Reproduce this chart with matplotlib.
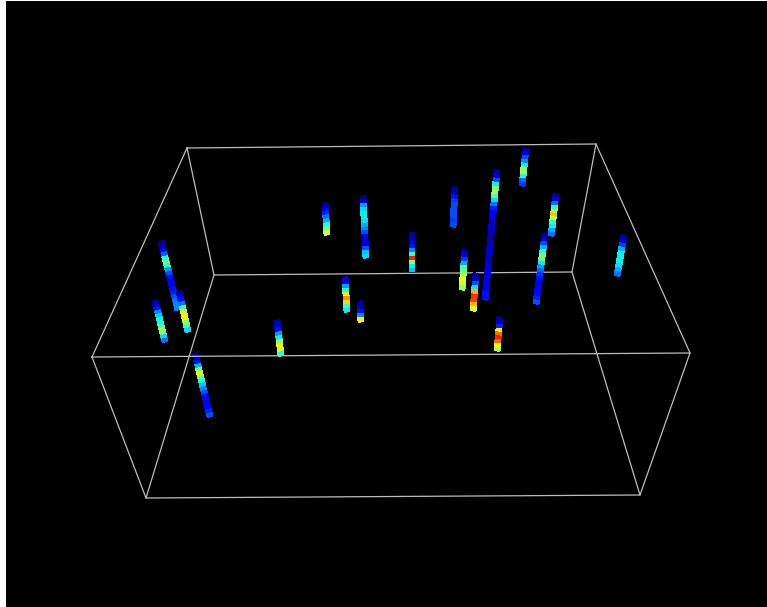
import numpy as np
import matplotlib
matplotlib.use('Agg')
import matplotlib.pyplot as plt
from matplotlib.collections import LineCollection

# box corners in pixels
front_x = [92, 690, 640, 146, 92]
front_y = [356, 352, 494, 497, 356]
back_x = [187, 596, 572, 214, 187]
back_y = [147, 143, 271, 274, 147]

# string ends (top x, top y, bottom x, bottom y)
string_ends = [
    (161, 240, 178, 309),
    (179, 290, 188, 331),
    (155, 299, 165, 341),
    (277, 319, 281, 355),
    (195, 352, 210, 416),
    (325, 202, 327, 234),
    (363, 195, 366, 257),
    (412, 231, 412, 271),
    (455, 186, 453, 226),
    (465, 248, 462, 289),
    (345, 276, 347, 311),
    (360, 300, 361, 321),
    (476, 272, 473, 310),
    (526, 147, 522, 185),
    (497, 169, 485, 299),
    (556, 193, 551, 235),
    (545, 233, 536, 303),
    (624, 234, 617, 275),
    (500, 316, 497, 350),
]

# colour value along each string, top to bottom
string_vals = [
    [0.02, 0.05, 0.12, 0.22, 0.38, 0.48, 0.4, 0.28, 0.2, 0.14, 0.12, 0.12, 0.14, 0.16, 0.2, 0.24, 0.26, 0.26],
    [0.02, 0.06, 0.14, 0.24, 0.4, 0.58, 0.66, 0.62, 0.52, 0.44, 0.34],
    [0.02, 0.06, 0.14, 0.26, 0.33, 0.36, 0.38, 0.44, 0.54, 0.48, 0.34, 0.24],
    [0.02, 0.06, 0.14, 0.28, 0.36, 0.52, 0.66, 0.6, 0.4],
    [0.02, 0.06, 0.14, 0.3, 0.5, 0.64, 0.5, 0.38, 0.32, 0.26, 0.2, 0.14, 0.12, 0.11, 0.12, 0.16, 0.2],
    [0.03, 0.08, 0.16, 0.24, 0.3, 0.38, 0.48, 0.62],
    [0.02, 0.08, 0.28, 0.34, 0.36, 0.36, 0.34, 0.3, 0.26, 0.2, 0.12, 0.06, 0.08, 0.2, 0.32, 0.34],
    [0.02, 0.04, 0.08, 0.14, 0.26, 0.4, 0.88, 0.5, 0.36, 0.32],
    [0.02, 0.04, 0.14, 0.18, 0.2, 0.2, 0.2, 0.2, 0.18, 0.2],
    [0.03, 0.08, 0.18, 0.3, 0.42, 0.5, 0.58, 0.64, 0.6, 0.52],
    [0.1, 0.06, 0.28, 0.4, 0.62, 0.76, 0.68, 0.42, 0.36],
    [0.02, 0.06, 0.14, 0.26, 0.66],
    [0.02, 0.06, 0.2, 0.35, 0.72, 0.86, 0.84, 0.72, 0.62],
    [0.02, 0.08, 0.2, 0.26, 0.36, 0.5, 0.56, 0.38, 0.22, 0.18],
    [0.03, 0.08, 0.2, 0.36, 0.5, 0.56, 0.44, 0.34, 0.24, 0.16, 0.12, 0.1, 0.08, 0.07, 0.06, 0.05, 0.05, 0.05,
     0.06, 0.06, 0.06, 0.06, 0.06, 0.07, 0.07, 0.08, 0.08, 0.09, 0.1, 0.12, 0.14, 0.14],
    [0.03, 0.08, 0.24, 0.42, 0.56, 0.7, 0.58, 0.42, 0.36, 0.3, 0.24],
    [0.03, 0.08, 0.2, 0.3, 0.38, 0.5, 0.48, 0.36, 0.28, 0.22, 0.17, 0.14, 0.12, 0.12, 0.12, 0.13, 0.16, 0.2],
    [0.03, 0.08, 0.18, 0.3, 0.36, 0.36, 0.36, 0.34, 0.3, 0.24],
    [0.02, 0.06, 0.16, 0.66, 0.8, 0.88, 0.8, 0.64, 0.56],
]

fig = plt.figure(figsize=(7.67, 6.07), dpi=100, facecolor='white')
ax = fig.add_axes([6 / 767, 0, 761 / 767, 606 / 607])
ax.set_facecolor('black')
ax.set_xlim(6, 767)
ax.set_ylim(606, 0)
ax.set_xticks([])
ax.set_yticks([])
for s in ax.spines.values():
    s.set_visible(False)

box_col = '#bdbdbd'
ax.plot(back_x, back_y, color=box_col, lw=0.9, zorder=1)
ax.plot(front_x, front_y, color=box_col, lw=0.9, zorder=3)
for i in range(4):
    ax.plot([front_x[i], back_x[i]], [front_y[i], back_y[i]], color=box_col, lw=0.9, zorder=3)

for ends, vals in zip(string_ends, string_vals):
    x = np.linspace(ends[0], ends[2], len(vals) + 1)
    y = np.linspace(ends[1], ends[3], len(vals) + 1)
    segs = [[(x[i], y[i]), (x[i + 1], y[i + 1])] for i in range(len(vals))]
    # no antialiasing, it leaves dark seams between the segments
    lc = LineCollection(segs, cmap='jet', norm=plt.Normalize(0, 1), linewidths=4.2, capstyle='butt',
                        antialiaseds=False, zorder=2)
    lc.set_array(np.array(vals))
    ax.add_collection(lc)

fig.savefig('out.png', dpi=100, facecolor='white')
